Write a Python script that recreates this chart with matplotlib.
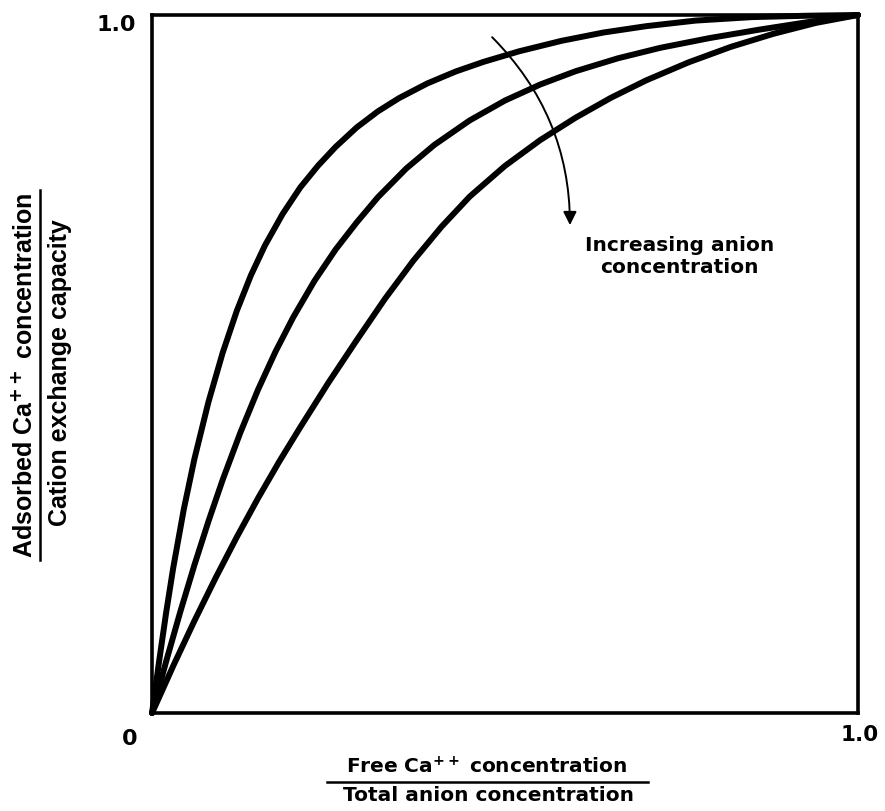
import matplotlib
matplotlib.use("Agg")
import matplotlib.pyplot as plt
from matplotlib.lines import Line2D

# fraccion libre de Ca++ (eje x) y fraccion adsorbida (eje y), tres curvas
x_baja = [0, .01, .02, .03, .045, .06, .08, .10, .12, .14, .16, .185, .21, .235,
          .26, .29, .32, .35, .39, .43, .47, .52, .58, .64, .70, .77, .85, .93, 1.0]
y_baja = [0, .074, .144, .208, .292, .364, .446, .516, .576, .627, .670, .715, .753,
          .784, .811, .839, .862, .881, .902, .919, .933, .948, .963, .975, .984,
          .992, .997, .999, 1.0]

x_media = [0, .02, .04, .06, .08, .10, .125, .15, .175, .20, .23, .26, .29, .32,
           .36, .40, .45, .50, .55, .60, .66, .72, .79, .86, .93, 1.0]
y_media = [0, .074, .145, .212, .275, .334, .4015, .463, .518, .567, .619, .664,
           .703, .739, .780, .814, .849, .8775, .9005, .9195, .938, .953, .967,
           .979, .990, 1.0]

x_alta = [0, .03, .06, .09, .12, .15, .18, .21, .25, .29, .33, .37, .41, .45, .50,
          .55, .60, .65, .70, .76, .82, .88, .94, 1.0]
y_alta = [0, .0675, .132, .1935, .252, .3075, .360, .4095, .4735, .5343, .5935,
          .6479, .6967, .7399, .7839, .8209, .8529, .8814, .9064, .9322, .9544,
          .973, .9886, 1.0]

curvas = [(x_baja, y_baja), (x_media, y_media), (x_alta, y_alta)]

fig = plt.figure(figsize=(8.85, 8.11), dpi=100)
ax = fig.add_axes([0.1718, 0.1208, 0.7977, 0.8607])
ax.set_xlim(0, 1)
ax.set_ylim(0, 1)
ax.set_xticks([])
ax.set_yticks([])
for s in ax.spines.values():
    s.set_linewidth(2.6)

for xs, ys in curvas:
    ax.plot(xs, ys, color='k', lw=4.3, solid_capstyle='round',
            solid_joinstyle='round', clip_on=False)

# flecha curva: aumento de la concentracion de aniones
ax.annotate('', xy=(0.592, 0.695), xytext=(0.479, 0.971),
            arrowprops=dict(arrowstyle='-|>', connectionstyle='arc3,rad=-0.21',
                            lw=1.4, color='k', mutation_scale=20))
fig.text(0.768, 0.684, 'Increasing anion\nconcentration', ha='center', va='center',
         fontsize=14.5, fontweight='bold', linespacing=1.2)

# valores extremos de los ejes
fig.text(0.131, 0.969, '1.0', ha='center', va='center', fontsize=16, fontweight='bold')
fig.text(0.147, 0.089, '0', ha='center', va='center', fontsize=16, fontweight='bold')
fig.text(0.971, 0.094, '1.0', ha='center', va='center', fontsize=15.5, fontweight='bold')

# etiqueta del eje x como fraccion
fig.text(0.550, 0.054, r'Free Ca$^{\mathbf{++}}$ concentration', ha='center',
         va='center', fontsize=14.5, fontweight='bold')
fig.add_artist(Line2D([0.3695, 0.732], [0.0358, 0.0358], transform=fig.transFigure,
                      color='k', lw=1.8))
fig.text(0.5525, 0.0185, 'Total anion concentration', ha='center', va='center',
         fontsize=14.5, fontweight='bold')

# etiqueta del eje y como fraccion
fig.text(0.028, 0.5376, r'Adsorbed Ca$^{\mathbf{++}}$ concentration', ha='center',
         va='center', rotation=90, fontsize=18, fontweight='bold',
         family='Liberation Sans')
fig.add_artist(Line2D([0.045, 0.045], [0.3095, 0.766], transform=fig.transFigure,
                      color='k', lw=1.8))
fig.text(0.068, 0.54, 'Cation exchange capacity', ha='center', va='center',
         rotation=90, fontsize=18, fontweight='bold', family='Liberation Sans')

plt.savefig('out.png', dpi=100)
